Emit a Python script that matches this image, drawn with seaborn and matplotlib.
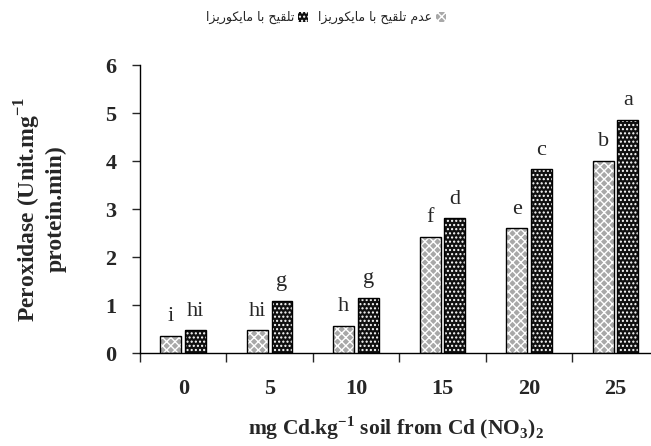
import pandas as pd
import seaborn as sns
import matplotlib
matplotlib.use('Agg')
from matplotlib import pyplot as plt
from matplotlib.patches import Rectangle, Patch

# data
doses = ['0', '5', '10', '15', '20', '25']
no_myco = [0.36, 0.47, 0.57, 2.42, 2.60, 4.00]
myco = [0.47, 1.09, 1.15, 2.81, 3.83, 4.86]
letters_no = ['i', 'hi', 'h', 'f', 'e', 'b']
letters_myco = ['hi', 'g', 'g', 'd', 'c', 'a']
label_no = 'عدم تلقیح با مایکوریزا'
label_myco = 'تلقیح با مایکوریزا'

# simple arabic shaping (isolated, final, initial, medial)
FORMS = {
    'ا': ('\uFE8D', '\uFE8E', None, None),
    'ب': ('\uFE8F', '\uFE90', '\uFE91', '\uFE92'),
    'ت': ('\uFE95', '\uFE96', '\uFE97', '\uFE98'),
    'ح': ('\uFEA1', '\uFEA2', '\uFEA3', '\uFEA4'),
    'د': ('\uFEA9', '\uFEAA', None, None),
    'ر': ('\uFEAD', '\uFEAE', None, None),
    'ز': ('\uFEAF', '\uFEB0', None, None),
    'ع': ('\uFEC9', '\uFECA', '\uFECB', '\uFECC'),
    'ق': ('\uFED5', '\uFED6', '\uFED7', '\uFED8'),
    'ل': ('\uFEDD', '\uFEDE', '\uFEDF', '\uFEE0'),
    'م': ('\uFEE1', '\uFEE2', '\uFEE3', '\uFEE4'),
    'و': ('\uFEED', '\uFEEE', None, None),
    'ی': ('\uFBFC', '\uFBFD', '\uFBFE', '\uFBFF'),
    'ک': ('\uFB8E', '\uFB8F', '\uFB90', '\uFB91'),
}


def shape(text):
    words = []
    for w in text.split(' '):
        res = []
        for i, c in enumerate(w):
            iso, fin, ini, med = FORMS[c]
            prev_j = i > 0 and FORMS[w[i - 1]][2] is not None
            next_j = i < len(w) - 1 and ini is not None
            if prev_j and next_j:
                res.append(med)
            elif prev_j:
                res.append(fin)
            elif next_j:
                res.append(ini)
            else:
                res.append(iso)
        words.append(''.join(res))
    return ' '.join(words)[::-1]


df = pd.DataFrame({
    'dose': doses * 2,
    'value': no_myco + myco,
    'group': [label_no] * 6 + [label_myco] * 6,
})

sns.set_style('ticks')
plt.rcParams['font.family'] = ['Liberation Serif', 'DejaVu Sans']
plt.rcParams['mathtext.fontset'] = 'custom'
plt.rcParams['mathtext.rm'] = 'Liberation Serif'
plt.rcParams['mathtext.bf'] = 'Liberation Serif:bold'
plt.rcParams['hatch.linewidth'] = 1.0

fig = plt.figure(figsize=(6.51, 4.46), dpi=100)
ax = fig.add_axes([0.215, 0.2085, 0.785, 0.6455])

colors = {label_no: '#a8a8a8', label_myco: '#101010'}
hatches = {label_no: 'xxxx', label_myco: '....'}
sns.barplot(data=df, x='dose', y='value', hue='group', order=doses,
            hue_order=[label_no, label_myco], palette=colors,
            width=0.57, gap=0.15, ax=ax, legend=False)

# patterned fill in white, black outline on top
for cont, grp in zip(ax.containers, [label_no, label_myco]):
    for bar in cont:
        bar.set_hatch(hatches[grp])
        bar.set_edgecolor('white')
        bar.set_linewidth(0)
        ax.add_patch(Rectangle(bar.get_xy(), bar.get_width(), bar.get_height(),
                               fill=False, edgecolor='black', lw=1.0))

for cont, lets in zip(ax.containers, [letters_no, letters_myco]):
    for bar, t in zip(cont, lets):
        ax.annotate(t, (bar.get_x() + bar.get_width() / 2, bar.get_height()),
                    xytext=(0, 10.5), textcoords='offset points',
                    ha='center', va='baseline', fontsize=16,
                    family='Liberation Serif')

ax.set_ylim(0, 6)
ax.set_xlim(-0.5, 5.41)
ax.set_yticks(range(7))
ax.set_yticklabels([str(v) for v in range(7)], fontsize=16, fontweight='bold')
ax.set_xticks([-0.5, 0.5, 1.5, 2.5, 3.5, 4.5])
ax.set_xticklabels([])
ax.set_xticks(range(6), doses, minor=True, fontsize=16, fontweight='bold')
ax.tick_params(axis='x', which='major', direction='out', length=6.5, width=1)
ax.tick_params(axis='x', which='minor', length=0, pad=19)
ax.tick_params(axis='y', direction='out', length=6, width=1, pad=11)
for s in ['top', 'right']:
    ax.spines[s].set_visible(False)
for s in ['left', 'bottom']:
    ax.spines[s].set_linewidth(1)
    ax.spines[s].set_color('black')

ax.set_ylabel('Peroxidase (Unit.mg$^{\\mathbf{-1}}$\nprotein.min)',
              fontsize=17, fontweight='bold', linespacing=1.15)
ax.yaxis.set_label_coords(-0.143, 0.5)
ax.set_xlabel('mg Cd.kg$^{\\mathbf{-1}}$ soil from Cd (NO$_{\\mathbf{3}}$)$_{\\mathbf{2}}$',
              fontsize=15.5, fontweight='bold')
ax.xaxis.set_label_coords(0.5, -0.212)

# legend is right-to-left: text first, then its box
order = [label_myco, label_no]
handles = [Patch(facecolor=colors[g], edgecolor='white', hatch=hatches[g], lw=0)
           for g in order]
fig.legend(handles, [shape(g) for g in order], loc='upper center',
           bbox_to_anchor=(0.5, 1.0), ncol=2, frameon=False, markerfirst=False,
           prop={'family': 'DejaVu Sans', 'size': 9},
           handlelength=0.8, handleheight=0.8, handletextpad=0.3, columnspacing=0.8)

fig.savefig('out.png', dpi=100)
